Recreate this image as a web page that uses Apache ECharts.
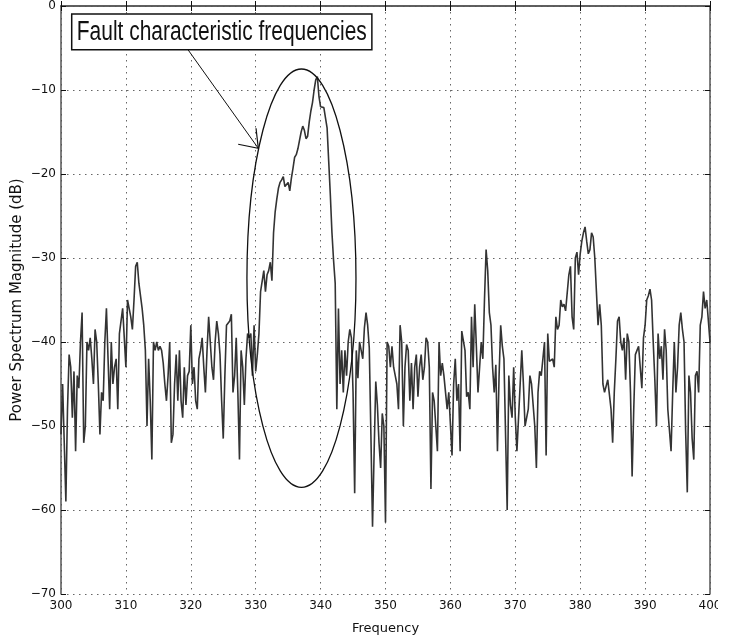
<!DOCTYPE html>
<html>
<head>
<meta charset="utf-8">
<script src="https://cdn.jsdelivr.net/npm/echarts/dist/echarts.min.js"></script>
<style>
  html, body { margin: 0; padding: 0; background: #fff; width: 733px; height: 637px; overflow: hidden; }
  #box000 { width: 718px; height: 637px; }
</style>
</head>
<body>
<div id="box000"></div>
<script>
// spectrum chart, 0.25 Hz resolution from 300 Hz
var spectrumChart = echarts.init(document.getElementById('box000'));

var freqStart = 300;
var freqStep = 0.25;

// power (dB), one block per 10 Hz
var p300 = [-51,-45,-52,-59,-48,-41.5,-43,-49,-43.5,-53,-44,-45.5,-40,-36.5,-52,-50,-40,-41,-39.5,-42,
  -45,-38.5,-40,-45,-51,-46,-47,-40,-36,-42,-48,-40,-45,-43,-42,-48,-39,-39,-36,-36];
var p310 = [-43,-35,-36,-37,-38.5,-35,-31,-30.5,-33,-33,-36,-38,-41,-50,-42,-47,-54,-40,-41,-40,
  -41,-40.5,-41,-42.5,-45,-47,-44,-40,-52,-51,-45,-41.5,-47,-41,-47,-49,-43,-47.5,-44,-43.5];
var p320 = [-38,-45,-43,-47,-48,-42,-41,-39.5,-43,-46,-41,-37,-40,-43,-44.5,-40,-37.5,-39,-41.5,-47,
  -51.5,-44,-38,-38,-37.5,-36.7,-46,-44,-39.5,-46,-54,-41,-43,-47.5,-42,-39,-39.5,-39,-44,-38];
var p330 = [-43.5,-41.5,-39,-34,-34,-31.5,-34,-32,-31.5,-30.5,-32.7,-27,-24.5,-23,-21.7,-21,-20.7,-20.3,-21.5,-21.3,
  -21,-22,-20.5,-19.3,-18,-17.7,-17,-16,-15,-14.3,-14.8,-15.8,-15.5,-13.8,-12.5,-11.5,-10,-8.8,-8.4,-10.8];
var p340 = [-12,-12,-12.1,-12.3,-14.5,-18.5,-22.5,-27,-30.3,-33,-48,-36,-45,-41,-46,-41,-44,-40,-38.5,-39.5,
  -46,-58,-41,-44.3,-40,-41,-42,-38.3,-36.5,-38,-40.7,-51,-62,-53,-44.7,-47.5,-52,-55,-48.5,-50];
var p350 = [-61.5,-40,-40.5,-43,-40.5,-43,-44,-45,-48,-38,-40,-50,-43,-40.3,-41,-47,-42.5,-48,-43,-41.5,
  -46.5,-43,-41.5,-44.5,-43,-39.5,-40,-43,-57.5,-46,-47,-50,-53,-40,-44,-42.5,-44,-46,-48,-46];
var p360 = [-46,-53.5,-45,-42,-47,-45,-53,-38.7,-38.5,-41,-46.5,-46,-48,-37,-43,-35.5,-40.5,-46,-43,-40,
  -42,-35,-29,-31.5,-36.5,-38,-43,-46,-42.7,-53,-44,-38,-40.5,-42,-42,-60,-44,-47.5,-49,-43];
var p370 = [-49,-53,-49,-45,-41,-45,-50,-49,-48,-44,-45,-45,-50,-55,-46,-43.5,-44,-42,-40,-53.5,
  -39,-42.3,-42.5,-42,-43,-37,-38.5,-38,-35,-35.8,-35.5,-36.3,-36.5,-32,-31,-37,-38.5,-30,-29.3,-32];
var p380 = [-29.5,-28,-27,-26.3,-28,-29.5,-29,-27,-27.5,-30,-34,-38,-35.5,-38,-45,-46,-46,-44.5,-44.5,-48,
  -52,-46,-42,-37.5,-37,-40,-41,-39.5,-44.5,-39,-40,-46,-56,-48,-41.5,-41,-40.5,-43,-45.5,-39.5];
var p390 = [-38,-35,-34.5,-33.7,-35,-40,-44.5,-50,-39,-42,-40.5,-44.5,-38.5,-41,-48,-50.5,-53,-46,-40,-46,
  -43,-38,-36.5,-38.5,-40,-50.7,-57.9,-44,-46,-51.5,-54,-44,-43.5,-46,-38,-37,-34,-36,-35,-35,-40];

var power = [].concat(p300, p310, p320, p330, p340, p350, p360, p370, p380, p390);
var data = power.map(function(v, i) {
  return [freqStart + i * freqStep, v];
});

// annotation, in data units
var noteText = 'Fault characteristic frequencies';
var noteBox = [301.65, -0.95, 347.9, -5.2];
var ellipseCenter = [337.05, -32.4];
var ellipseRadius = [8.4, 24.9];
var arrowLine = [[319.6, -5.24], [330.4, -16.94]];
var arrowHead = [[327.3, -16.46], [330.4, -16.94], [330.05, -14.56]];

var font = 'DejaVu Sans';
var dotted = { color: '#666', width: 1, type: [1.5, 4.5] };

option = {
  animation: false,
  backgroundColor: '#fff',
  grid: {
    left: 61,
    top: 6,
    width: 649,
    height: 588,
    containLabel: false,
    outerBoundsMode: 'none'
  },
  xAxis: [{
    type: 'value',
    min: 300,
    max: 400,
    interval: 10,
    name: 'Frequency',
    nameLocation: 'middle',
    nameGap: 28,
    nameTextStyle: { color: '#111', fontFamily: font, fontSize: 13 },
    axisLine: { show: true, lineStyle: { color: '#555', width: 1.5 } },
    axisTick: { inside: true, length: 5, lineStyle: { color: '#111' } },
    axisLabel: { color: '#111', fontFamily: font, fontSize: 12, margin: 6 },
    splitLine: { show: true, lineStyle: dotted }
  }, {
    type: 'value',
    position: 'top',
    min: 300,
    max: 400,
    interval: 10,
    axisLine: { show: true, lineStyle: { color: '#555', width: 1.5 } },
    axisTick: { inside: true, length: 5, lineStyle: { color: '#111' } },
    axisLabel: { show: false },
    splitLine: { show: false }
  }],
  yAxis: [{
    type: 'value',
    min: -70,
    max: 0,
    interval: 10,
    name: 'Power Spectrum Magnitude (dB)',
    nameLocation: 'middle',
    nameGap: 36,
    nameMoveOverlap: false,
    nameTextStyle: { color: '#111', fontFamily: font, fontSize: 15 },
    axisLine: { show: true, lineStyle: { color: '#555', width: 1.5 } },
    axisTick: { inside: true, length: 5, lineStyle: { color: '#111' } },
    axisLabel: {
      color: '#111', fontFamily: font, fontSize: 12, margin: 5,
      formatter: function(value) {
        return value < 0 ? '\u2212' + Math.abs(value) : String(value);
      }
    },
    splitLine: { show: true, lineStyle: dotted }
  }, {
    type: 'value',
    position: 'right',
    min: -70,
    max: 0,
    interval: 10,
    axisLine: { show: true, lineStyle: { color: '#555', width: 1.5 } },
    axisTick: { inside: true, length: 5, lineStyle: { color: '#111' } },
    axisLabel: { show: false },
    splitLine: { show: false }
  }],
  series: [{
    name: 'Power',
    type: 'line',
    xAxisIndex: 0,
    yAxisIndex: 0,
    data: data,
    showSymbol: false,
    symbol: 'none',
    lineStyle: { color: '#333', width: 1.6 },
    z: 3
  }]
};

spectrumChart.setOption(option);

// annotation drawn after layout so it follows the axes
function px(p) {
  return spectrumChart.convertToPixel({ xAxisIndex: 0, yAxisIndex: 0 }, p);
}
var b1 = px([noteBox[0], noteBox[1]]);
var b2 = px([noteBox[2], noteBox[3]]);
var ec = px(ellipseCenter);
var er = px([ellipseCenter[0] + ellipseRadius[0], ellipseCenter[1] + ellipseRadius[1]]);

spectrumChart.setOption({
  graphic: [{
    type: 'ellipse',
    z: 10,
    shape: { cx: ec[0], cy: ec[1], rx: er[0] - ec[0], ry: ec[1] - er[1] },
    style: { fill: 'none', stroke: '#111', lineWidth: 1.3 }
  }, {
    type: 'polyline',
    z: 10,
    shape: { points: arrowLine.map(px) },
    style: { fill: 'none', stroke: '#111', lineWidth: 1 }
  }, {
    type: 'polyline',
    z: 10,
    shape: { points: arrowHead.map(px) },
    style: { fill: 'none', stroke: '#111', lineWidth: 1.2 }
  }, {
    type: 'rect',
    z: 11,
    shape: { x: b1[0], y: b1[1], width: b2[0] - b1[0], height: b2[1] - b1[1] },
    style: { fill: '#fff', stroke: '#111', lineWidth: 1.5 }
  }, {
    type: 'text',
    z: 12,
    x: (b1[0] + b2[0]) / 2,
    y: (b1[1] + b2[1]) / 2 + 1,
    scaleX: 0.776,
    style: {
      text: noteText,
      fill: '#111',
      fontFamily: 'Liberation Sans',
      fontSize: 27,
      textAlign: 'center',
      textVerticalAlign: 'middle'
    }
  }]
});
</script>
</body>
</html>
